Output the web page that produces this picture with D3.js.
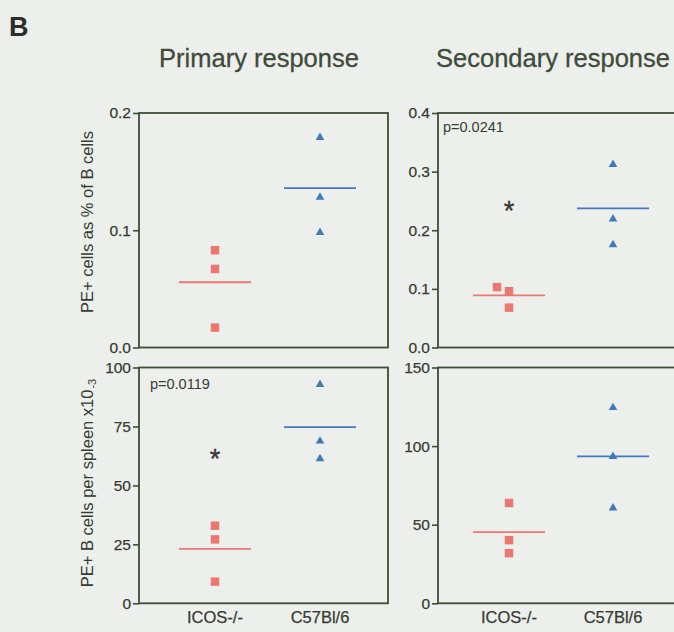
<!DOCTYPE html>
<html>
<head>
<meta charset="utf-8">
<script src="https://cdn.jsdelivr.net/npm/d3@7"></script>
<style>
  html, body { margin: 0; padding: 0; background: #edefec; }
  svg { display: block; }
  text { font-family: "Liberation Sans", Arial, sans-serif; }
</style>
</head>
<body>
<script>
// ---- data ----
const groups = ["ICOS-/-", "C57Bl/6"];
const columnTitles = ["Primary response", "Secondary response"];
const rowTitles = ["PE+ cells as % of B cells", "PE+ B cells per spleen x10"];
const rowTitleSup = ["", "-3"];

// PE+ cells as % of B cells
const pctPrimaryICOS = [0.083, 0.067, 0.017];
const pctPrimaryB6 = [0.180, 0.129, 0.099];
const pctSecondaryICOS = [0.103, 0.096, 0.068];
const pctSecondaryB6 = [0.314, 0.221, 0.177];

// PE+ B cells per spleen (x10^-3)
const countPrimaryICOS = [32.9, 27.1, 9.2];
const countPrimaryB6 = [93.2, 69.2, 61.7];
const countSecondaryICOS = [63.8, 40.2, 31.9];
const countSecondaryB6 = [125.1, 94.0, 61.3];

// axis ticks
const pctPrimaryTicks = [0, 0.1, 0.2];
const pctSecondaryTicks = [0, 0.1, 0.2, 0.3, 0.4];
const countPrimaryTicks = [0, 25, 50, 75, 100];
const countSecondaryTicks = [0, 50, 100, 150];

// significance annotations: [row, col, label, asterisk height]
const annotations = [
  { row: 0, col: 1, label: "p=0.0241", star: 0.245 },
  { row: 1, col: 0, label: "p=0.0119", star: 64 }
];

const panels = [
  { row: 0, col: 0, ticks: pctPrimaryTicks, fmt: d3.format(".1f"), series: [pctPrimaryICOS, pctPrimaryB6] },
  { row: 0, col: 1, ticks: pctSecondaryTicks, fmt: d3.format(".1f"), series: [pctSecondaryICOS, pctSecondaryB6] },
  { row: 1, col: 0, ticks: countPrimaryTicks, fmt: d3.format("d"), series: [countPrimaryICOS, countPrimaryB6] },
  { row: 1, col: 1, ticks: countSecondaryTicks, fmt: d3.format("d"), series: [countSecondaryICOS, countSecondaryB6] }
];

// ---- layout ----
const W = 674, H = 632;
const panelW = 249;
const cols = [
  { left: 139, a: 76, b: 181, titleX: 259, pX: 11 },
  { left: 438, a: 71, b: 175, titleX: 553, pX: 5 }
];
const rows = [
  { top: 113, bottom: 347.5, labelY: 222, pY: 14 },
  { top: 367.5, bottom: 603.3, labelY: 483, pY: 16 }
];

const frameColor = "#3c4f33";
const textColor = "#353c32";
const groupColors = ["#ec776e", "#3f78bd"];

const svg = d3.select("body").append("svg")
  .attr("width", W).attr("height", H);

svg.append("rect").attr("width", W).attr("height", H).attr("fill", "#edefec");

// panel letter
svg.append("text").attr("x", 9).attr("y", 36)
  .attr("font-size", 27).attr("font-weight", "bold").attr("fill", "#2b2f2a").text("B");

// column titles
columnTitles.forEach((t, i) => {
  svg.append("text")
    .attr("x", cols[i].titleX).attr("y", 67)
    .attr("text-anchor", "middle")
    .attr("font-size", 25.5).attr("fill", "#3f4b3a")
    .attr("stroke", "#3f4b3a").attr("stroke-width", 0.3)
    .text(t);
});

// row titles (rotated)
rowTitles.forEach((t, i) => {
  const txt = svg.append("text")
    .attr("transform", `translate(93,${rows[i].labelY}) rotate(-90)`)
    .attr("text-anchor", "middle")
    .attr("font-size", 16.5).attr("fill", textColor);
  txt.append("tspan").text(t);
  if (rowTitleSup[i]) {
    txt.append("tspan").attr("font-size", 11).attr("dy", 3).attr("dx", 1).text(rowTitleSup[i]);
  }
});

function scalesFor(p) {
  const c = cols[p.col], r = rows[p.row];
  const x = d3.scalePoint().domain(groups).range([c.left + c.a, c.left + c.b]);
  const y = d3.scaleLinear().domain([p.ticks[0], p.ticks[p.ticks.length - 1]]).range([r.bottom, r.top]);
  return { x, y };
}

const square = d3.symbol().type(d3.symbolSquare).size(72);
const triangle = d3.symbol().type(d3.symbolTriangle).size(32);

panels.forEach(p => {
  const c = cols[p.col], r = rows[p.row];
  const { x, y } = scalesFor(p);
  const g = svg.append("g");

  // y axis
  const axis = d3.axisLeft(y).tickValues(p.ticks).tickFormat(p.fmt).tickSize(6).tickPadding(2);
  const ag = g.append("g").attr("transform", `translate(${c.left},0)`).call(axis);
  ag.select(".domain").remove();
  ag.selectAll(".tick line").attr("stroke", frameColor).attr("stroke-width", 1.6);
  ag.selectAll(".tick text").attr("font-size", 15.5).attr("fill", textColor)
    .attr("stroke", textColor).attr("stroke-width", 0.25)
    .attr("font-family", "Liberation Sans, Arial, sans-serif");

  // frame
  g.append("rect")
    .attr("x", c.left).attr("y", r.top)
    .attr("width", panelW).attr("height", r.bottom - r.top)
    .attr("fill", "none").attr("stroke", frameColor).attr("stroke-width", 1.8);

  // category labels on bottom row
  if (p.row === 1) {
    groups.forEach(gname => {
      g.append("text").attr("x", x(gname)).attr("y", 623)
        .attr("text-anchor", "middle").attr("font-size", 16.5).attr("fill", textColor)
        .attr("stroke", textColor).attr("stroke-width", 0.25)
        .text(gname);
    });
  }

  // points and mean lines
  p.series.forEach((vals, gi) => {
    const gname = groups[gi];
    const cx = x(gname);
    const color = groupColors[gi];

    // mean
    const m = d3.mean(vals);
    g.append("line")
      .attr("x1", cx - 36).attr("x2", cx + 36)
      .attr("y1", y(m)).attr("y2", y(m))
      .attr("stroke", color).attr("stroke-width", 1.8);

    // nudge overlapping points sideways
    const placed = [];
    const pts = vals.slice().sort((a, b) => a - b).map(v => {
      let px = cx;
      if (placed.some(q => Math.abs(y(q.v) - y(v)) < 10 && q.px === cx)) px = cx - 12;
      const o = { v, px };
      placed.push(o);
      return o;
    });

    g.selectAll(null).data(pts).join("path")
      .attr("d", gi === 0 ? square : triangle)
      .attr("transform", d => `translate(${d.px},${y(d.v) + (gi === 1 ? 1 : 0)})`)
      .attr("fill", color);
  });

  // annotations
  annotations.filter(a => a.row === p.row && a.col === p.col).forEach(a => {
    g.append("text").attr("x", c.left + c.pX).attr("y", r.top + r.pY + 5)
      .attr("font-size", 14.5).attr("fill", textColor).text(a.label);
    g.append("text").attr("x", x(groups[0])).attr("y", y(a.star) + 16)
      .attr("text-anchor", "middle").attr("font-size", 27).attr("fill", "#383838")
      .attr("stroke", "#383838").attr("stroke-width", 0.4).text("*");
  });
});
</script>
</body>
</html>
